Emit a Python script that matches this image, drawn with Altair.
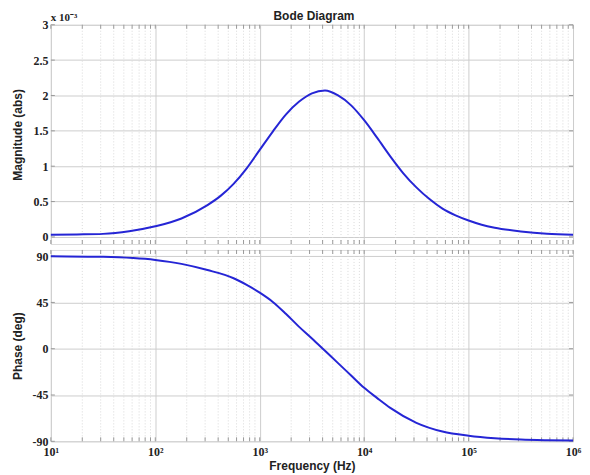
import altair as alt
import pandas as pd

# ---- data ----
mag_freq = [10, 17.8, 31.6, 56.2, 100, 178, 316, 422, 562, 750, 1000, 1334, 1778, 2371,
            3162, 4217, 5623, 7499, 10000, 13335, 17783, 23714, 31623, 42170, 56234,
            75000, 100000, 133352, 177828, 316228, 562341, 1000000]
mag_vals = [0.03, 0.035, 0.043, 0.08, 0.15, 0.26, 0.45, 0.58, 0.75, 0.97, 1.23, 1.49, 1.73, 1.91,
            2.03, 2.07, 2.0, 1.86, 1.65, 1.40, 1.14, 0.90, 0.70, 0.535, 0.40,
            0.305, 0.232, 0.172, 0.13, 0.078, 0.045, 0.03]   # x 10^-3

ph_freq = [10, 31.6, 100, 178, 316, 562, 750, 1000, 1334, 1778, 2371, 3162, 4217, 5623,
           7499, 10000, 13335, 17783, 31623, 56234, 100000, 177828, 316228, 562341, 1000000]
ph_vals = [90, 89.3, 86.3, 82.5, 76.5, 68.5, 62, 54.5, 45.5, 34, 21.5, 10, -2, -14,
           -26, -38, -48, -57.5, -72, -80.5, -84.6, -87, -88.3, -88.9, -89.2]

mag_ticks = [0, 0.5, 1, 1.5, 2, 2.5, 3]
ph_ticks = [-90, -45, 0, 45, 90]
decades = [10, 100, 1000, 10000, 100000, 1000000]
minor_freqs = [m * d for d in decades[:-1] for m in range(2, 10)]
all_ticks = decades + minor_freqs

W, H1, H2 = 524, 220, 192
LINE = "#2525d5"
GRID = "#cdcdcd"
MINOR = "#d9d9d9"
FRAME = "#9a9a9a"
LBL_FONT = "Liberation Serif"
TTL_FONT = "Liberation Sans"

mag_df = pd.DataFrame({"f": mag_freq, "y": mag_vals})
ph_df = pd.DataFrame({"f": ph_freq, "y": ph_vals})
minor_df = pd.DataFrame({"f": minor_freqs})
tick_df = pd.DataFrame({"f": all_ticks})
magtick_df = pd.DataFrame({"y": mag_ticks})
phtick_df = pd.DataFrame({"y": ph_ticks})

xscale = alt.Scale(type="log", domain=[10, 1000000], nice=False)

sup_expr = ("'10' + ['\u2070','\u00b9','\u00b2','\u00b3','\u2074','\u2075','\u2076']"
            "[round(log(datum.value)/LN10)]")

xaxis_top = alt.Axis(values=decades, labels=False, ticks=False, domain=False, title=None,
                     grid=True, gridColor=GRID)
xaxis_bot = alt.Axis(values=decades, labelExpr=sup_expr, ticks=False, domain=False,
                     grid=True, gridColor=GRID, title="Frequency  (Hz)",
                     labelFont=LBL_FONT, labelFontWeight="bold", labelFontSize=12,
                     labelColor="#222", labelPadding=5, labelFlush=False,
                     titleFont=TTL_FONT, titleFontWeight="bold", titleFontSize=12,
                     titleColor="#222", titlePadding=3)


def yaxis(values, title, h):
    return alt.Axis(values=values, title=title, ticks=False, domain=False, grid=True,
                    gridColor=GRID, labelExpr="'' + datum.value",
                    labelFont=LBL_FONT, labelFontWeight="bold", labelFontSize=12,
                    labelColor="#222", labelPadding=3,
                    titleFont=TTL_FONT, titleFontWeight="bold", titleFontSize=12,
                    titleColor="#222", titleX=-26, titleY=h / 2)


def panel(df, ydom, yvals, ytitle, h, xaxis, tickdf):
    X = alt.X("f:Q", scale=xscale, axis=xaxis)
    Y = alt.Y("y:Q", scale=alt.Scale(domain=ydom, nice=False, zero=False),
              axis=yaxis(yvals, ytitle, h))
    minor = alt.Chart(minor_df).mark_rule(color=MINOR, strokeDash=[1, 2], strokeWidth=1).encode(
        x=X, y=alt.value(0), y2=alt.value(h))
    ttop = alt.Chart(tick_df).mark_rule(color=FRAME, strokeWidth=1).encode(
        x=X, y=alt.value(0), y2=alt.value(4))
    tbot = alt.Chart(tick_df).mark_rule(color=FRAME, strokeWidth=1).encode(
        x=X, y=alt.value(h - 4), y2=alt.value(h))
    yl = alt.Chart(tickdf).mark_rule(color=FRAME, strokeWidth=1).encode(
        y=Y, x=alt.value(0), x2=alt.value(4))
    yr = alt.Chart(tickdf).mark_rule(color=FRAME, strokeWidth=1).encode(
        y=Y, x=alt.value(W - 4), x2=alt.value(W))
    line = alt.Chart(df).mark_line(color=LINE, strokeWidth=2, interpolate="monotone").encode(
        x=X, y=Y)
    return [minor, ttop, tbot, yl, yr, line]


top_layers = panel(mag_df, [-0.1, 3], mag_ticks, "Magnitude (abs)", H1, xaxis_top, magtick_df)

exp_df = pd.DataFrame({"t": ["x 10\u207b\u00b3"]})
exp_txt = alt.Chart(exp_df).mark_text(align="left", baseline="alphabetic", font=LBL_FONT,
                                      fontWeight="bold", fontSize=11, color="#222").encode(
    x=alt.value(0), y=alt.value(-4), text="t:N")

title_df = pd.DataFrame({"t": ["Bode Diagram"]})
title_txt = alt.Chart(title_df).mark_text(align="center", baseline="alphabetic", font=TTL_FONT,
                                          fontWeight="bold", fontSize=12, color="#222").encode(
    x=alt.value(W / 2 + 2), y=alt.value(-5), text="t:N")

top = alt.layer(*top_layers, exp_txt, title_txt).properties(width=W, height=H1)

bot_layers = panel(ph_df, [-90, 96], ph_ticks, "Phase (deg)", H2, xaxis_bot, phtick_df)
bot = alt.layer(*bot_layers).properties(width=W, height=H2)

chart = alt.vconcat(top, bot, spacing=4).properties(
    padding={"left": 3, "top": 0, "right": 0, "bottom": 0}
).configure_view(stroke=FRAME, strokeWidth=1).configure(background="white")

chart.save("out.html", embed_options={"renderer": "svg", "actions": False})
